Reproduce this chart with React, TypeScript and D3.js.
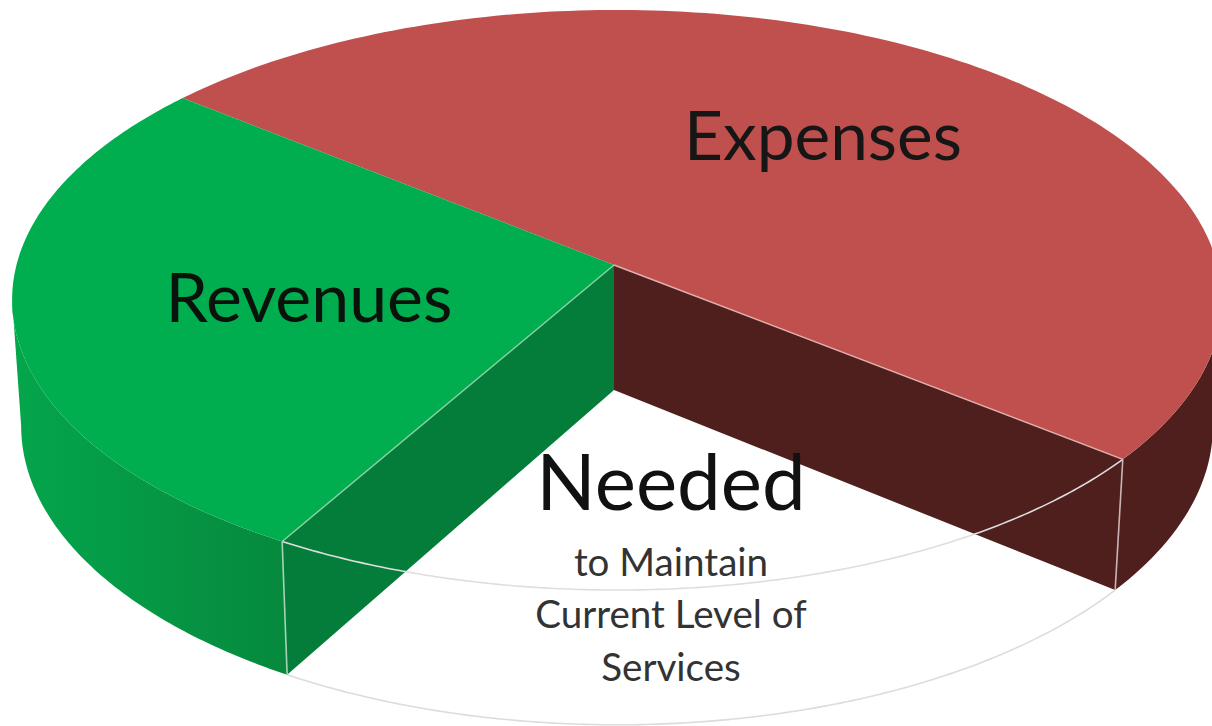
import React, { useEffect, useRef } from 'react';
import * as d3 from 'd3';

const categories = ['Expenses', 'Needed', 'Revenues'];
const shares = [49.9, 22.5, 27.6];
const firstSliceStartDeg = -50.9;

const topColors = ['#c0504d', 'none', '#00ae50'];
const innerWallColors = ['#4f1f1e', 'none', '#047d3a'];
const subLabelLines = ['to Maintain', 'Current Level of', 'Services'];

const W = 1212;
const H = 726;

// one-point perspective of a flat disc: apex is where the disc centre lands
const tilt = 0.1207;
const sideTilt = 0.005;
const discX = 600.5;
const discY = 285.8;
const apexX = 614;
const apexTopY = 265;
const apexBottomY = 390;
const bottomScaleX = 0.985;
const bottomScaleY = 1.03;

type Pt = [number, number];
type Level = 'top' | 'bottom';

const project = (angle: number, r: number, level: Level): Pt => {
  const u = r * Math.sin(angle);
  const v = -r * Math.cos(angle);
  const w = 1 - tilt * v - sideTilt * u;
  const sx = level === 'top' ? 1 : bottomScaleX;
  const sy = level === 'top' ? 1 : bottomScaleY;
  const y0 = level === 'top' ? apexTopY : apexBottomY;
  return [apexX + (discX * sx * u) / w, y0 + (discY * sy * v) / w];
};

const arcPts = (a0: number, a1: number, level: Level): Pt[] =>
  d3.range(0, 161).map((i) => project(a0 + ((a1 - a0) * i) / 160, 1, level));

// cut an arc where it reaches its outermost x, the wall is not visible beyond that
const untilEdge = (pts: Pt[], side: 'left' | 'right', fromEnd: boolean): Pt[] => {
  const idx = side === 'left' ? d3.leastIndex(pts, (p) => p[0])! : d3.greatestIndex(pts, (p) => p[0]);
  return fromEnd ? pts.slice(idx) : pts.slice(0, idx + 1);
};

const App: React.FC = () => {
  const svgRef = useRef<SVGSVGElement>(null);

  useEffect(() => {
    if (!svgRef.current) return;
    const svg = d3.select(svgRef.current);
    svg.selectAll('*').remove();

    const start = (firstSliceStartDeg * Math.PI) / 180;
    const slices = d3.pie<number>().sort(null).startAngle(start).endAngle(start + 2 * Math.PI)(shares);
    const [exp, need, rev] = slices;
    const line = d3.line<Pt>();

    const defs = svg.append('defs');
    const grad = defs.append('linearGradient')
      .attr('id', 'greenWall')
      .attr('gradientUnits', 'userSpaceOnUse')
      .attr('x1', 20).attr('x2', 285).attr('y1', 0).attr('y2', 0);
    grad.append('stop').attr('offset', 0).attr('stop-color', '#04a54c');
    grad.append('stop').attr('offset', 1).attr('stop-color', '#06893d');

    const apexTop: Pt = [apexX, apexTopY];
    const apexBottom: Pt = [apexX, apexBottomY];

    // outer walls, the top faces hide whatever lies behind them
    const revTop = untilEdge(arcPts(rev.startAngle, rev.endAngle, 'top'), 'left', false);
    const revBottom = untilEdge(arcPts(rev.startAngle, rev.endAngle, 'bottom'), 'left', false);
    svg.append('path')
      .attr('d', line([...revTop, ...revBottom.reverse()]) + 'Z')
      .attr('fill', 'url(#greenWall)');
    const expTop = untilEdge(arcPts(exp.startAngle, exp.endAngle, 'top'), 'right', true);
    const expBottom = untilEdge(arcPts(exp.startAngle, exp.endAngle, 'bottom'), 'right', true);
    svg.append('path')
      .attr('d', line([...expTop, ...expBottom.reverse()]) + 'Z')
      .attr('fill', innerWallColors[0]);

    // cut faces looking into the missing slice
    const cutFace = (angle: number, color: string) => {
      svg.append('path')
        .attr('d', line([apexTop, project(angle, 1, 'top'), project(angle, 1, 'bottom'), apexBottom]) + 'Z')
        .attr('fill', color);
    };
    cutFace(rev.startAngle, innerWallColors[2]);
    cutFace(need.startAngle, innerWallColors[0]);

    // top faces
    [exp, rev].forEach((s) => {
      svg.append('path')
        .attr('d', line([apexTop, ...arcPts(s.startAngle, s.endAngle, 'top')]) + 'Z')
        .attr('fill', topColors[s.index]);
    });

    // thin outline of the missing slice
    const outline = (pts: Pt[], color: string, width: number) => {
      svg.append('path')
        .attr('d', line(pts))
        .attr('fill', 'none')
        .attr('stroke', color)
        .attr('stroke-width', width);
    };
    const needTop = arcPts(need.startAngle, need.endAngle, 'top');
    const needBottom = arcPts(need.startAngle, need.endAngle, 'bottom');
    outline(needBottom, '#dcdcdc', 1.6);
    outline(needTop, '#dedede', 1.6);
    outline([apexTop, project(need.startAngle, 1, 'top')], '#e0b0ae', 1.4);
    outline([apexTop, project(need.endAngle, 1, 'top')], '#8fd0a6', 1.4);
    outline([project(need.startAngle, 1, 'top'), project(need.startAngle, 1, 'bottom')], '#c9b5b4', 1.6);
    outline([project(need.endAngle, 1, 'top'), project(need.endAngle, 1, 'bottom')], '#a5d3b5', 1.6);

    const font = 'Lato, "Open Sans", sans-serif';
    const label = (x: number, y: number, text: string, size: number, color: string) => {
      svg.append('text')
        .attr('x', x).attr('y', y)
        .attr('text-anchor', 'middle')
        .attr('font-family', font)
        .attr('font-size', size)
        .attr('fill', color)
        .text(text);
    };
    label(823, 160, categories[0], 67.5, '#161616');
    label(309, 322, categories[2], 68, '#0a120c');
    label(671, 510, categories[1], 78, '#111111');
    subLabelLines.forEach((t, i) => label(671, 575.5 + i * 52.5, t, 38.6, '#333333'));
  }, []);

  return (
    <svg
      ref={svgRef}
      width={W}
      height={H}
      style={{ position: 'absolute', left: 0, top: 0, background: '#fff' }}
    />
  );
};

export default App;
